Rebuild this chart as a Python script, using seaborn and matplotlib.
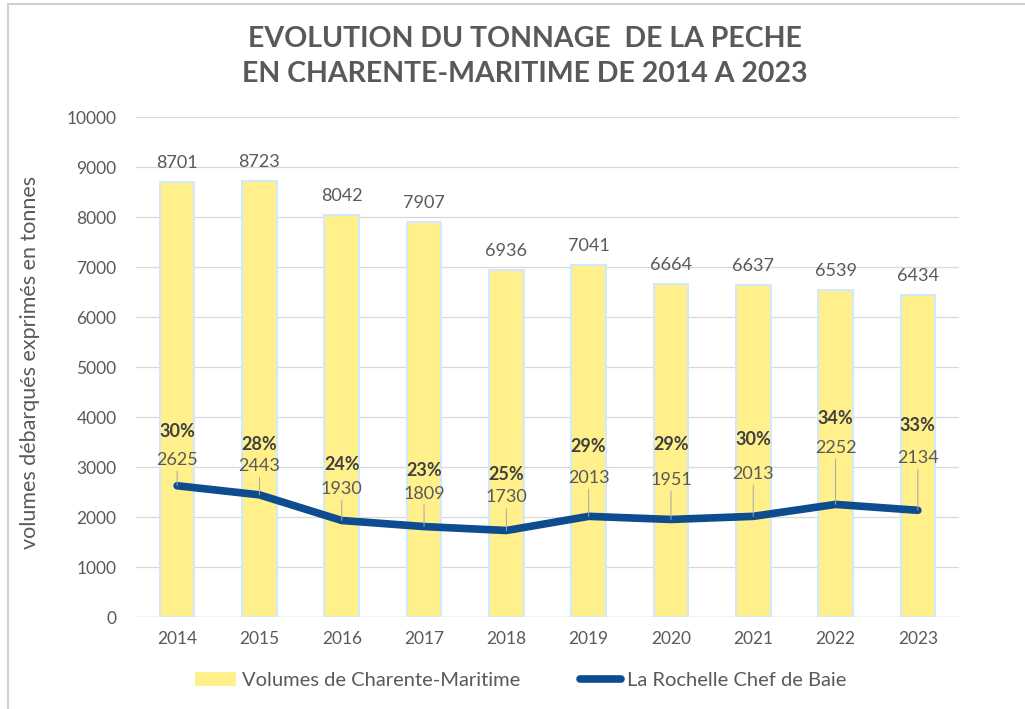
import matplotlib
matplotlib.use("Agg")
import matplotlib.pyplot as plt
import seaborn as sns
import numpy as np
import pandas as pd
from matplotlib.patches import Patch, Rectangle
from matplotlib.lines import Line2D

years = ["2014", "2015", "2016", "2017", "2018", "2019", "2020", "2021", "2022", "2023"]
charente = [8701, 8723, 8042, 7907, 6936, 7041, 6664, 6637, 6539, 6434]
rochelle = [2625, 2443, 1930, 1809, 1730, 2013, 1951, 2013, 2252, 2134]
shares = ["30%", "28%", "24%", "23%", "25%", "29%", "29%", "30%", "34%", "33%"]

# label offsets (points) above the line points
val_off = [13, 15, 17, 18, 18, 22, 23, 25, 35, 32]
pct_off = [33, 30, 34, 34, 34, 44, 48, 49, 56, 55]

sns.set_theme(style="white")
plt.rcParams['font.family'] = ['Lato', 'DejaVu Sans']

GRAY = "#595959"
YEL = "#FFF08C"
BLUE = "#0D4C8E"

fig = plt.figure(figsize=(10.25, 7.09), dpi=100)
ax = fig.add_axes([136/1025, (709-617)/709, (959-136)/1025, 500/709])

df = pd.DataFrame({"year": years, "val": charente})
sns.barplot(data=df, x="year", y="val", ax=ax, color=YEL, width=0.42,
            edgecolor="#d4e8fb", linewidth=1.5, saturation=1, zorder=2)

xs = np.arange(len(years))
sns.lineplot(x=xs, y=rochelle, ax=ax, color=BLUE, linewidth=5.5, zorder=4,
             solid_capstyle="round", solid_joinstyle="round")

ax.set_ylim(0, 10000)
ax.set_xlim(-0.5, len(years) - 0.5)
ax.set_yticks(range(0, 10001, 1000))
ax.yaxis.grid(True, color="#d9d9d9", linewidth=0.9, zorder=0)
ax.set_axisbelow(True)
for s in ax.spines.values():
    s.set_visible(False)
ax.axhline(0, color="#d9d9d9", linewidth=1.0, zorder=1)
ax.tick_params(axis="both", length=0, labelsize=12.5, labelcolor=GRAY, pad=10)
ax.tick_params(axis="y", pad=14)
ax.set_xlabel("")
ax.set_ylabel("volumes débarqués exprimés en tonnes", fontsize=15.5, color=GRAY)
ax.yaxis.set_label_coords(-0.117, 0.51)

for i, v in enumerate(charente):
    ax.annotate(str(v), (i, v), xytext=(0, 8), textcoords="offset points",
                ha="center", va="bottom", fontsize=13, color=GRAY, zorder=5)

for i, v in enumerate(rochelle):
    ax.annotate(str(v), (i, v), xytext=(0, val_off[i]), textcoords="offset points",
                ha="center", va="bottom", fontsize=13, color=GRAY, zorder=5,
                arrowprops=dict(arrowstyle="-", color="#a6a6a6", lw=0.7,
                                shrinkA=0, shrinkB=0))
    ax.annotate(shares[i], (i, v), xytext=(0, pct_off[i]), textcoords="offset points",
                ha="center", va="bottom", fontsize=13, color="#404040",
                fontweight="bold", zorder=5)

fig.text(0.512, 0.945, "EVOLUTION DU TONNAGE  DE LA PECHE", ha="center", va="center",
         fontsize=20.5, fontweight="bold", color=GRAY)
fig.text(0.512, 0.895, "EN CHARENTE-MARITIME DE 2014 A 2023", ha="center", va="center",
         fontsize=20.5, fontweight="bold", color=GRAY)

handles = [Patch(facecolor=YEL, edgecolor="none"),
           Line2D([0], [0], color=BLUE, lw=5.5, solid_capstyle="round")]
fig.legend(handles, ["Volumes de Charente-Maritime", "La Rochelle Chef de Baie"],
           loc="center", bbox_to_anchor=(0.508, 0.04), ncol=2, frameon=False,
           fontsize=14.5, labelcolor=GRAY, handlelength=2.0, columnspacing=3.0,
           handletextpad=0.3)

fig.patches.append(Rectangle((8/1025, -0.1), 1.2, (709-4)/709 + 0.1, transform=fig.transFigure,
                             fill=False, edgecolor="#d0d0d0", linewidth=1.5, zorder=0))

fig.savefig("out.png", dpi=100)
